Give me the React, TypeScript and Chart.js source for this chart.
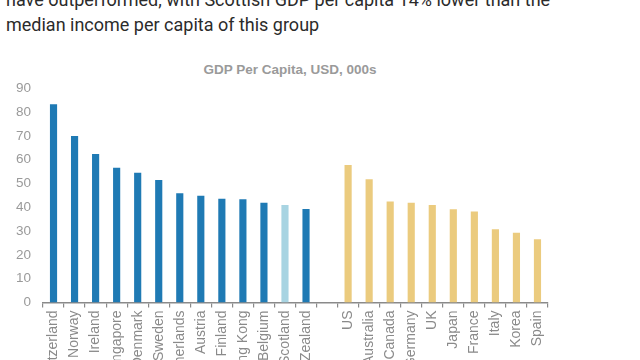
import React, { useEffect, useRef } from "react";
import { Chart, registerables } from "chart.js";

Chart.register(...registerables);

const headerLines = [
  "have outperformed, with Scottish GDP per capita 14% lower than the",
  "median income per capita of this group",
];
const chartTitle = "GDP Per Capita, USD, 000s";

const smallCountries = [
  "Switzerland", "Norway", "Ireland", "Singapore", "Denmark", "Sweden",
  "Netherlands", "Austria", "Finland", "Hong Kong", "Belgium", "Scotland", "New Zealand",
];
const smallValues = [83.3, 70.0, 62.4, 56.6, 54.5, 51.5, 45.9, 44.9, 43.6, 43.4, 41.9, 41.0, 39.3];

const largeCountries = ["US", "Australia", "Canada", "Germany", "UK", "Japan", "France", "Italy", "Korea", "Spain"];
const largeValues = [57.8, 51.8, 42.4, 41.9, 41.0, 39.2, 38.2, 30.8, 29.3, 26.6];

const highlightCountry = "Scotland";
const yMin = 0;
const yMax = 90;
const yStep = 10;

const BLUE = "#1f7ab4";
const LIGHT_BLUE = "#a8d4e2";
const GOLD = "#ebcb7e";

export default function App() {
  const canvasRef = useRef<HTMLCanvasElement | null>(null);

  useEffect(() => {
    const labels = [...smallCountries, "", ...largeCountries];
    const values: (number | null)[] = [...smallValues, null, ...largeValues];
    const colors = [
      ...smallCountries.map((c) => (c === highlightCountry ? LIGHT_BLUE : BLUE)),
      "rgba(0,0,0,0)",
      ...largeCountries.map(() => GOLD),
    ];
    const font = "'Liberation Sans', Arial, sans-serif";
    const chart = new Chart(canvasRef.current!, {
      type: "bar",
      data: {
        labels,
        datasets: [
          {
            data: values,
            backgroundColor: colors,
            borderWidth: 0,
            barPercentage: 0.34,
            categoryPercentage: 1,
          },
        ],
      },
      options: {
        animation: false,
        responsive: false,
        maintainAspectRatio: false,
        layout: { padding: { left: 0, right: 32, top: 48.3, bottom: 0 } },
        plugins: {
          legend: { display: false },
          tooltip: { enabled: false },
          title: { display: false },
        },
        scales: {
          x: {
            grid: {
              display: true,
              drawOnChartArea: false,
              drawTicks: true,
              tickLength: 5,
              color: "#8a8a8a",
              lineWidth: 1.2,
            },
            border: { display: true, color: "#8a8a8a", width: 1.5 },
            ticks: {
              color: "#8a8a8a",
              font: { family: font, size: 14 },
              minRotation: 90,
              maxRotation: 90,
              autoSkip: false,
              padding: 3,
            },
            afterFit: (scale: any) => {
              scale.height = 87.5;
            },
          },
          y: {
            min: yMin,
            max: yMax,
            grid: { display: false, drawTicks: false, tickLength: 0 },
            border: { display: false },
            ticks: {
              stepSize: yStep,
              color: "#9a9a9a",
              font: { family: font, size: 13.5 },
              padding: 12,
            },
            afterFit: (scale: any) => {
              scale.width = 43;
            },
          },
        },
      },
    });
    return () => chart.destroy();
  }, []);

  return (
    <div
      style={{
        position: "absolute",
        left: 0,
        top: 0,
        width: 640,
        height: 360,
        overflow: "hidden",
        background: "#ffffff",
      }}
    >
      <div
        style={{
          position: "absolute",
          left: 6,
          top: -13,
          fontFamily: "Roboto, sans-serif",
          fontSize: 18,
          lineHeight: "25px",
          color: "#2b2b2b",
          whiteSpace: "nowrap",
        }}
      >
        {headerLines.map((l, i) => (
          <div key={i}>{l}</div>
        ))}
      </div>
      <div
        style={{
          position: "absolute",
          left: 190,
          top: 61.5,
          width: 200,
          textAlign: "center",
          fontFamily: "'Liberation Sans', Arial, sans-serif",
          fontWeight: "bold",
          fontSize: 13.5,
          lineHeight: "16px",
          color: "#9a9a9a",
          whiteSpace: "nowrap",
        }}
      >
        {chartTitle}
      </div>
      <div style={{ position: "absolute", left: 0, top: 40, width: 580, height: 350 }}>
        <canvas ref={canvasRef} width={580} height={350} style={{ width: 580, height: 350 }} />
      </div>
    </div>
  );
}
